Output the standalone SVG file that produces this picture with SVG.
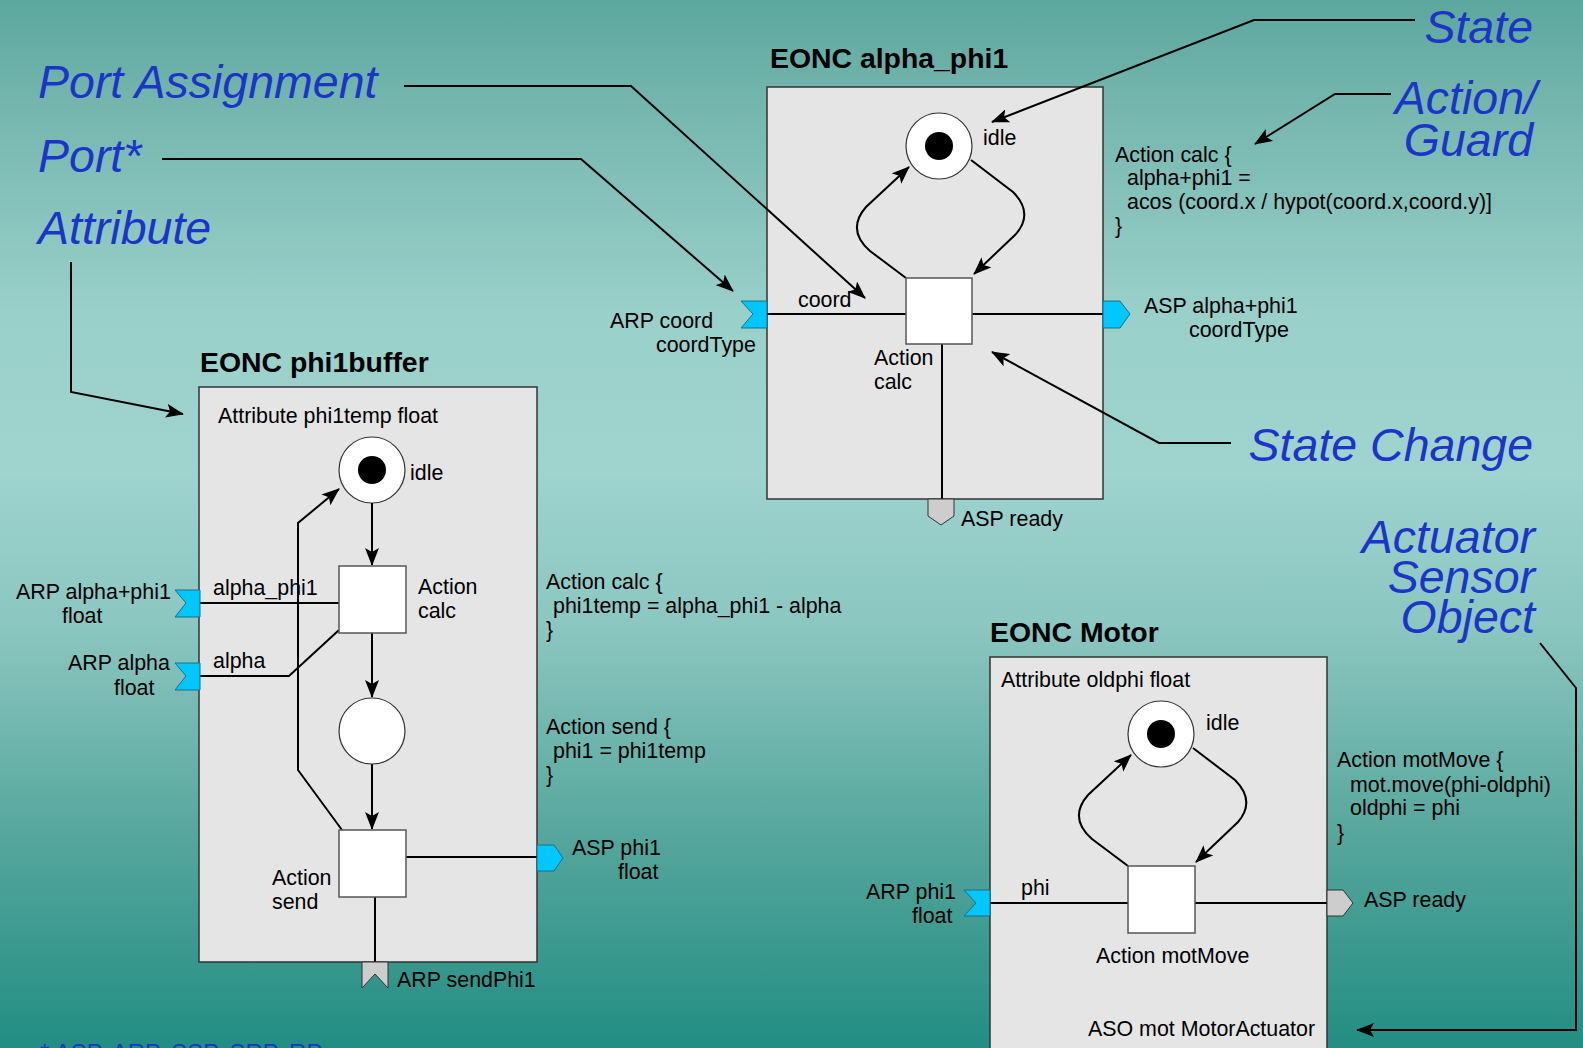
<svg xmlns="http://www.w3.org/2000/svg" width="1583" height="1048" viewBox="0 0 1583 1048">
<defs>
<linearGradient id="bg" x1="0" y1="0" x2="0" y2="1">
<stop offset="0" stop-color="#5ca79e"/>
<stop offset="0.1" stop-color="#74b6ae"/>
<stop offset="0.3" stop-color="#9ad0ca"/>
<stop offset="0.45" stop-color="#9ed3ce"/>
<stop offset="0.6" stop-color="#8bc6c0"/>
<stop offset="0.8" stop-color="#55a69c"/>
<stop offset="1" stop-color="#238d83"/>
</linearGradient>
<marker id="arr" viewBox="0 0 18 14" refX="17" refY="7" markerWidth="18" markerHeight="14" markerUnits="userSpaceOnUse" orient="auto">
<path d="M0,0 L18,7 L0,14 L4,7 z" fill="#000"/>
</marker>
<style>
.box{fill:#e5e5e5;stroke:#333;stroke-width:1.5}
.sq{fill:#fff;stroke:#555;stroke-width:1.5}
.pl{fill:#fff;stroke:#333;stroke-width:1.2}
.tok{fill:#000}
.ln{fill:none;stroke:#000;stroke-width:2}
.ar{fill:none;stroke:#000;stroke-width:2;marker-end:url(#arr)}
.cy{fill:#00c8ff;stroke:#1b6f86;stroke-width:1}
.gr{fill:#cdcdcd;stroke:#333;stroke-width:1}
.t{font-family:"Liberation Sans",Arial,sans-serif;font-size:21.4px;fill:#000}
.h{font-family:"Liberation Sans",Arial,sans-serif;font-size:28.4px;font-weight:bold;fill:#000}
.b{font-family:"Liberation Sans",Arial,sans-serif;font-size:46.5px;font-style:italic;fill:#1a35c8}
.f{font-family:"Liberation Sans",Arial,sans-serif;font-size:24px;fill:#1a35c8}
</style>
</defs>
<rect width="1583" height="1048" fill="url(#bg)"/>

<g id="labels">
<text class="b" x="38" y="98">Port Assignment</text>
<text class="b" x="38" y="172">Port*</text>
<text class="b" x="38" y="244">Attribute</text>
<text class="b" x="1533" y="43" text-anchor="end">State</text>
<text class="b" x="1537" y="114" text-anchor="end">Action/</text>
<text class="b" x="1533" y="156" text-anchor="end">Guard</text>
<text class="b" x="1533" y="461" text-anchor="end">State Change</text>
<text class="b" x="1535" y="553" text-anchor="end">Actuator</text>
<text class="b" x="1535" y="593" text-anchor="end">Sensor</text>
<text class="b" x="1535" y="633" text-anchor="end">Object</text>
<text class="f" x="40" y="1061">* ASP, ARP, SSP, SRP, RP</text>
</g>

<g id="eonc-alpha_phi1">
<text class="h" x="770" y="68">EONC alpha_phi1</text>
<rect class="box" x="767" y="87" width="336" height="412"/>
<circle class="pl" cx="939" cy="146" r="33"/>
<circle class="tok" cx="939" cy="146" r="14"/>
<text class="t" x="983" y="145">idle</text>
<path class="ln" d="M767 314 L1103 314"/>
<path class="ln" d="M942 344 L942 499"/>
<path class="ar" d="M906 278 L870 251 Q846 230 866 207 L909 167"/>
<path class="ar" d="M971 160 L1013 192 Q1034 213 1016 234 L974 274"/>
<rect class="sq" x="906" y="278" width="66" height="66"/>
<text class="t" x="798" y="307">coord</text>
<text class="t" x="874" y="365">Action</text>
<text class="t" x="874" y="389">calc</text>
<polygon class="cy" points="741,301 767,301 767,328 741,328 753,314"/>
<text class="t" x="610" y="328">ARP coord</text>
<text class="t" x="656" y="352">coordType</text>
<polygon class="cy" points="1103,301 1120,301 1130,314 1120,328 1103,328"/>
<text class="t" x="1144" y="313">ASP alpha+phi1</text>
<text class="t" x="1189" y="337">coordType</text>
<polygon class="gr" points="928,499 954,499 954,516 941,525 928,516"/>
<text class="t" x="961" y="526">ASP ready</text>
<text class="t" x="1115" y="162">Action calc {</text>
<text class="t" x="1127" y="185">alpha+phi1 =</text>
<text class="t" x="1127" y="209">acos (coord.x / hypot(coord.x,coord.y)]</text>
<text class="t" x="1115" y="233">}</text>
</g>

<g id="eonc-phi1buffer">
<text class="h" x="200" y="372">EONC phi1buffer</text>
<rect class="box" x="199" y="387" width="338" height="575"/>
<text class="t" x="218" y="423">Attribute phi1temp float</text>
<circle class="pl" cx="372" cy="470" r="33"/>
<circle class="tok" cx="372" cy="470" r="14"/>
<text class="t" x="410" y="480">idle</text>
<path class="ar" d="M372 503 L372 565"/>
<path class="ar" d="M372 633 L372 697"/>
<path class="ar" d="M372 764 L372 829"/>
<path class="ar" d="M342 830 L298 770 L298 523 L339 489"/>
<path class="ln" d="M200 603 L339 603"/>
<path class="ln" d="M200 676 L289 676 L339 630"/>
<path class="ln" d="M406 857 L537 857"/>
<path class="ln" d="M375 897 L375 962"/>
<rect class="sq" x="339" y="566" width="67" height="67"/>
<circle class="pl" cx="372" cy="731" r="33"/>
<rect class="sq" x="339" y="830" width="67" height="67"/>
<text class="t" x="418" y="594">Action</text>
<text class="t" x="418" y="618">calc</text>
<text class="t" x="272" y="885">Action</text>
<text class="t" x="272" y="909">send</text>
<text class="t" x="213" y="595">alpha_phi1</text>
<text class="t" x="213" y="668">alpha</text>
<polygon class="cy" points="175,590 200,590 200,617 175,617 186,603"/>
<text class="t" x="16" y="599">ARP alpha+phi1</text>
<text class="t" x="62" y="623">float</text>
<polygon class="cy" points="175,663 200,663 200,690 175,690 186,676"/>
<text class="t" x="68" y="670">ARP alpha</text>
<text class="t" x="114" y="695">float</text>
<polygon class="cy" points="537,845 554,845 563,858 554,871 537,871"/>
<text class="t" x="572" y="855">ASP phi1</text>
<text class="t" x="618" y="879">float</text>
<polygon class="gr" points="362,962 388,962 388,988 375,974 362,988"/>
<text class="t" x="397" y="987">ARP sendPhi1</text>
<text class="t" x="546" y="589">Action calc {</text>
<text class="t" x="553" y="613">phi1temp = alpha_phi1 - alpha</text>
<text class="t" x="546" y="637">}</text>
<text class="t" x="546" y="734">Action send {</text>
<text class="t" x="553" y="758">phi1 = phi1temp</text>
<text class="t" x="546" y="782">}</text>
</g>

<g id="eonc-motor">
<text class="h" x="990" y="642">EONC Motor</text>
<rect class="box" x="990" y="657" width="337" height="410"/>
<text class="t" x="1001" y="687">Attribute oldphi float</text>
<circle class="pl" cx="1161" cy="734" r="33"/>
<circle class="tok" cx="1161" cy="734" r="14"/>
<text class="t" x="1206" y="730">idle</text>
<path class="ln" d="M990 903 L1327 903"/>
<path class="ar" d="M1128 866 L1092 839 Q1068 818 1088 795 L1131 755"/>
<path class="ar" d="M1193 748 L1235 780 Q1256 801 1238 822 L1196 862"/>
<rect class="sq" x="1128" y="866" width="67" height="67"/>
<text class="t" x="1021" y="895">phi</text>
<text class="t" x="1096" y="963">Action motMove</text>
<text class="t" x="1088" y="1036">ASO mot MotorActuator</text>
<polygon class="cy" points="964,890 990,890 990,916 964,916 976,903"/>
<text class="t" x="866" y="899">ARP phi1</text>
<text class="t" x="912" y="923">float</text>
<polygon class="gr" points="1327,890 1343,890 1353,903 1343,916 1327,916"/>
<text class="t" x="1364" y="907">ASP ready</text>
<text class="t" x="1337" y="767">Action motMove {</text>
<text class="t" x="1350" y="792">mot.move(phi-oldphi)</text>
<text class="t" x="1350" y="815">oldphi = phi</text>
<text class="t" x="1337" y="840">}</text>
</g>

<g id="connectors">
<path class="ar" d="M404 86 L631 86 L865 298"/>
<path class="ar" d="M162 159 L581 159 L733 291"/>
<path class="ar" d="M71 262 L71 392 L183 414"/>
<path class="ar" d="M1415 20 L1254 20 L992 122"/>
<path class="ar" d="M1391 94 L1335 94 L1255 144"/>
<path class="ar" d="M1231 443 L1159 443 L992 352"/>
<path class="ar" d="M1540 643 L1576 688 L1576 1030 L1357 1030"/>
</g>
</svg>
